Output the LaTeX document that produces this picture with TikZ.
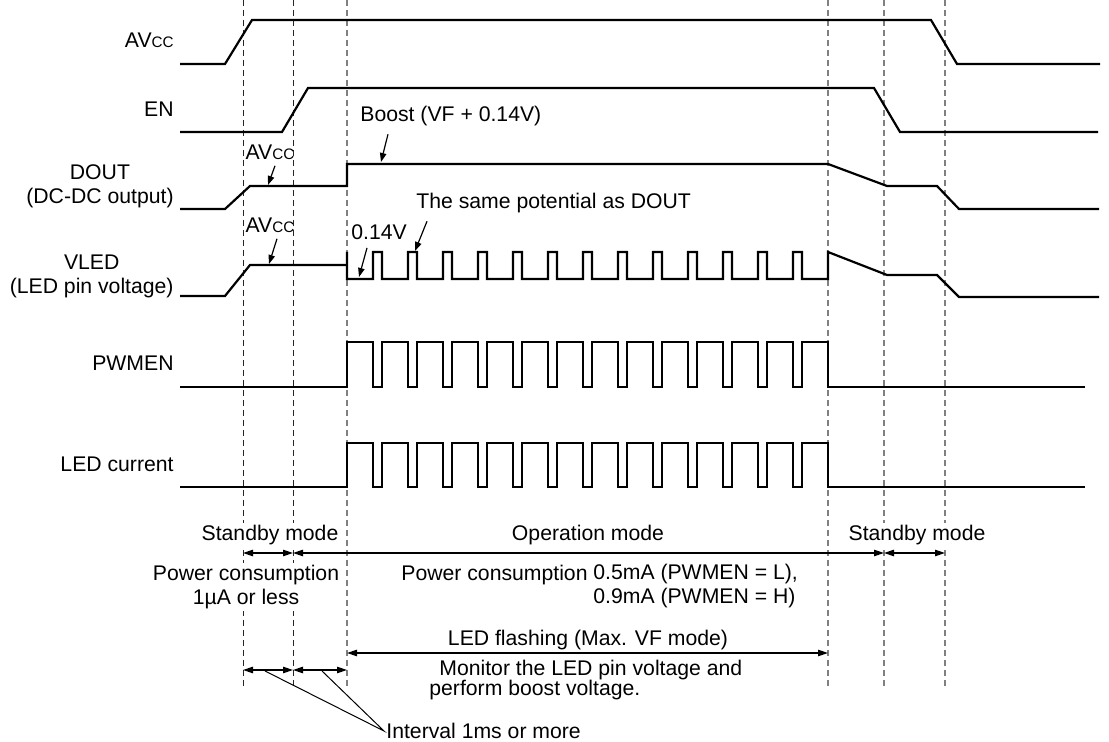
\documentclass[tikz,border=0pt]{standalone}
\usepackage{fontspec}
\setmainfont{Liberation Sans}
\usetikzlibrary{arrows.meta}
\newcommand{\avcc}{AV{\fontsize{7.6}{9}\selectfont CC}}
\tikzset{
  wave/.style={line width=1.1pt},
  guide/.style={gray, line width=0.6pt, dash pattern=on 3pt off 2pt},
  thinguide/.style={black!85, line width=0.4pt, dash pattern=on 3pt off 2pt},
  span/.style={line width=0.6pt, {Triangle[length=5pt,width=3.2pt]}-{Triangle[length=5pt,width=3.2pt]}},
  callout/.style={line width=0.6pt, -{Triangle[length=4.5pt,width=3.2pt]}},
  blank/.style={fill=white},
  every node/.style={inner sep=1pt},
}
\begin{document}
\begin{tikzpicture}[x=0.5pt, y=-0.5pt, font=\fontsize{10.6}{12}\selectfont]
\useasboundingbox (0,0) rectangle (1109,742);
% dashed guides
\foreach \gx [count=\i] in {243,293}
  \draw[thinguide] (\gx,0) coordinate (g\i) -- (\gx,687);
\foreach \gx [count=\i from 3] in {347,828,884,945}
  \draw[guide] (\gx,0) coordinate (g\i) -- (\gx,687);

% signal names
\node[left, align=center] (avcc) at (176,40) {\avcc};
\node[left, align=center] (en) at (176,109) {EN};
\node[left, align=center] (dout) at (176,186) {DOUT\\(DC-DC output)};
\node[left, align=center] (vled) at (176,276) {VLED\\(LED pin voltage)};
\node[left, align=center] (pwmen) at (176,363) {PWMEN};
\node[left, align=center] (ledi) at (176,464) {LED current};

% waveforms
\draw[wave] (180,64) -- (225,64) -- (252,20) -- (931,20) -- (957,64) -- (1100,64);
\draw[wave] (180,132) -- (282,132) -- (308,88) -- (874,88) -- (900,132) -- (1098,132);
\draw[wave] (180,209) -- (225,209) -- (250,186) -- (347,186) -- (347,164) -- (828,164)
  -- (887,186) -- (937,186) -- (959,209) -- (1099,209);
\draw[wave] (180,296) -- (225,296) -- (250,265) -- (347,265);
\draw[wave] (347,252) -- (347,279)
  \foreach \k in {0,...,12} { -- ({373+35*\k},279) -- ++(0,-27) -- ++(9,0) -- ++(0,27) }
  -- (828,279) -- (828,252) -- (887,275) -- (937,275) -- (959,297) -- (1099,297);
\draw[wave] (180,387) -- (347,387) -- (347,342)
  \foreach \k in {0,...,12} { -- ({373+35*\k},342) -- ++(0,45) -- ++(9,0) -- ++(0,-45) }
  -- (828,342) -- (828,387) -- (1085,387);
\draw[wave] (180,487) -- (347,487) -- (347,443)
  \foreach \k in {0,...,12} { -- ({373+35*\k},443) -- ++(0,44) -- ++(9,0) -- ++(0,-44) }
  -- (828,443) -- (828,487) -- (1085,487);

% callouts
\node (avd) at (270,152) {\avcc};
\node (avv) at (270,225) {\avcc};
\node[right] (boost) at (358,116) {Boost (VF + 0.14V)};
\node[right] (same) at (414,203) {The same potential as DOUT};
\node[right] (v014) at (349,232) {0.14V};
\coordinate (tavd) at (268,185);
\coordinate (tavv) at (269,264);
\coordinate (tboost) at (381,162);
\coordinate (tsame) at (415,251);
\coordinate (tv014) at (359,277);
\draw[callout] ([shift={(5,4)}]avd.south) -- (tavd);
\draw[callout] ([shift={(7,4)}]avv.south) -- (tavv);
\draw[callout] ([shift={(30,6)}]boost.south west) -- (tboost);
\draw[callout] ([shift={(13,6)}]same.south west) -- (tsame);
\draw[callout] ([shift={(18,6)}]v014.south west) -- (tv014);

% modes
\node[blank] (sb1) at (270,535) {Standby mode};
\node[blank] (op) at (588,535) {Operation mode};
\node[blank] (sb2) at (917,535) {Standby mode};
\coordinate (m1) at (243,553);
\coordinate (m2) at (293,553);
\coordinate (m3) at (884,553);
\coordinate (m4) at (945,553);
\draw[span] (m1) -- (m2);
\draw[span] (m2) -- (m3);
\draw[span] (m3) -- (m4);
\node[blank, align=center] (pc1) at (246,587) {Power consumption\\1µA or less};
\node[left] (pc2) at (590,575) {Power consumption};
\node[right, align=left] (pc3) at (591,586) {0.5mA (PWMEN = L),\\0.9mA (PWMEN = H)};

% flashing
\node (flash) at (588,640) {LED flashing (Max. VF mode)};
\coordinate (f1) at (347,653);
\coordinate (f2) at (828,653);
\draw[span] (f1) -- (f2);
\node[right] (mon1) at (437,670) {Monitor the LED pin voltage and};
\node[right] (mon2) at (427,690) {perform boost voltage.};

% intervals
\coordinate (i1) at (243,670);
\coordinate (i2) at (293,670);
\coordinate (i3) at (347,670);
\draw[span] (i1) -- (i2);
\draw[span] (i2) -- (i3);
\node[right] (intv) at (384,731) {Interval 1ms or more};
\coordinate (p1) at (265,671);
\coordinate (p2) at (322,671);
\draw[line width=0.5pt] (p1) -- (intv.west) -- (p2);
\end{tikzpicture}
\end{document}
